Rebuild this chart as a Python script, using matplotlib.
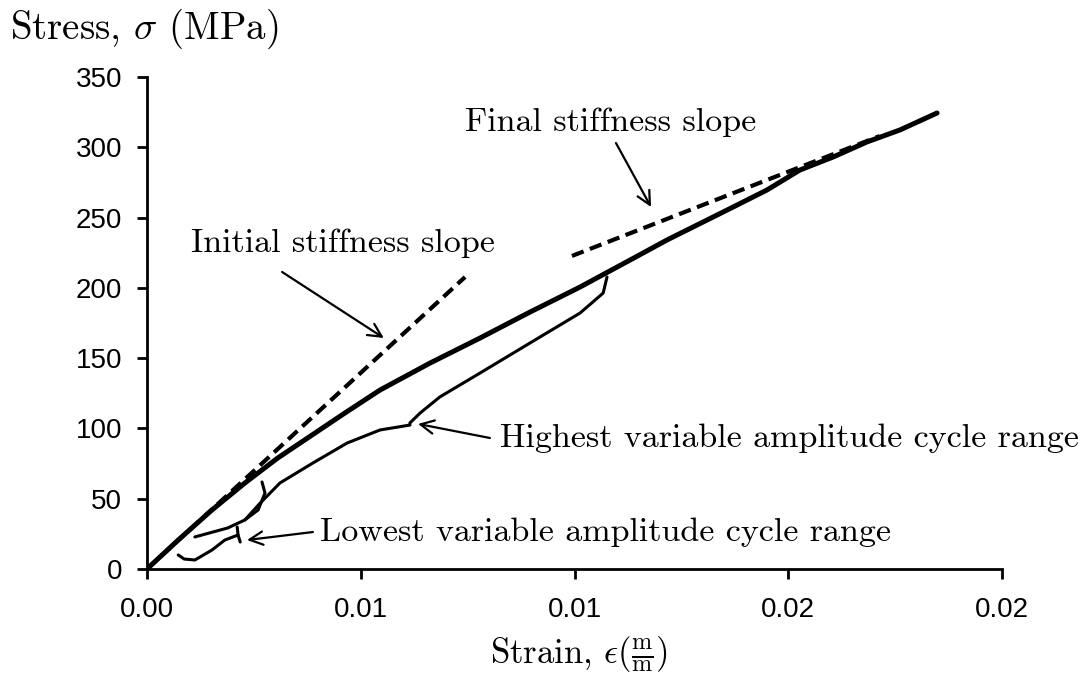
import numpy as np
import matplotlib
matplotlib.use("Agg")
import matplotlib.pyplot as plt

plt.rcParams['mathtext.fontset'] = 'cm'

# monotonic envelope (strain, stress MPa)
env_strain = [0, 0.00073, 0.00152, 0.00229, 0.00306, 0.00386, 0.00463, 0.00545, 0.00662,
              0.00779, 0.00896, 0.01013, 0.0113, 0.01216, 0.01371, 0.0145, 0.01527,
              0.01605, 0.01684, 0.01761, 0.01838, 0.01848]
env_stress = [0, 20.6, 42.0, 61.2, 79.0, 95.3, 111.0, 127.3, 146.5,
              164.3, 182.8, 200.6, 219.8, 234.0, 257.5, 269.6, 283.8,
              293.1, 303.8, 312.3, 323.0, 324.4]

# highest variable amplitude cycle: unloading from tip to cusp, then lower branch
hi_strain = [0.01076, 0.01067, 0.01013, 0.00896, 0.00779, 0.00685, 0.00639, 0.00615,
             0.00615, 0.00545, 0.00468, 0.00388, 0.00311, 0.00262, 0.00229]
hi_stress = [207.7, 196.3, 182.1, 160.8, 139.4, 122.4, 111.0, 103.9,
             102.4, 98.9, 89.6, 75.4, 61.2, 46.0, 34.9]

# small hook near the low cycle
hook_strain = [0.00269, 0.00276, 0.0026, 0.00229, 0.00189, 0.00112]
hook_stress = [61.9, 54.1, 42.0, 34.9, 29.2, 22.8]

# lowest variable amplitude cycle
lo_strain = [0.00073, 0.00087, 0.00112, 0.00152, 0.00182, 0.00213, 0.00218]
lo_stress = [10.0, 7.1, 6.4, 13.5, 20.6, 24.2, 19.2]
lo_link_strain = [0.00211, 0.00213]
lo_link_stress = [29.9, 24.2]

# stiffness slopes
init_strain = [0, 0.00744]
init_stress = [0, 207.7]
final_strain = [0.00994, 0.01714]
final_stress = [222.7, 308]

x_ticks = [0, 0.005, 0.01, 0.015, 0.02]
x_labels = ['0.00', '0.01', '0.01', '0.02', '0.02']
y_ticks = [0, 50, 100, 150, 200, 250, 300, 350]

fig = plt.figure(figsize=(10.84, 6.79), dpi=100)
ax = fig.add_axes([0.1356, 0.162, 0.7888, 0.7246])

ax.plot(init_strain, init_stress, color='black', lw=3, ls=(0, (3, 1.6)))
ax.plot(final_strain, final_stress, color='black', lw=3, ls=(0, (3, 1.6)))
ax.plot(env_strain, env_stress, color='black', lw=3.6, solid_capstyle='round', solid_joinstyle='round')
for xs, ys in [(hi_strain, hi_stress), (hook_strain, hook_stress),
               (lo_strain, lo_stress), (lo_link_strain, lo_link_stress)]:
    ax.plot(xs, ys, color='black', lw=2.2, solid_capstyle='round', solid_joinstyle='round')

ax.set_xlim(0, 0.02)
ax.set_ylim(0, 350)
ax.set_xticks(x_ticks)
ax.set_xticklabels(x_labels)
ax.set_yticks(y_ticks)
for s in ['top', 'right']:
    ax.spines[s].set_visible(False)
for s in ['left', 'bottom']:
    ax.spines[s].set_linewidth(2)
ax.tick_params(direction='out', length=7, width=2, labelsize=20)
ax.tick_params(axis='y', pad=11)
ax.tick_params(axis='x', pad=13)
for lab in ax.get_xticklabels() + ax.get_yticklabels():
    lab.set_fontfamily('Liberation Sans')

serif = dict(fontfamily='cmr10', fontsize=24.5)
arrow = dict(arrowstyle='->', color='black', lw=1.6, mutation_scale=24, shrinkA=0, shrinkB=0)

ax.text(0.00458, 231.9, 'Initial stiffness slope', ha='center', va='center', **serif)
ax.annotate('', xy=(0.00554, 164.3), xytext=(0.00316, 211.3), arrowprops=arrow)
ax.text(0.01085, 318, 'Final stiffness slope', ha='center', va='center', **serif)
ax.annotate('', xy=(0.01179, 257.5), xytext=(0.01097, 303), arrowprops=arrow)
ax.text(0.00826, 93.2, 'Highest variable amplitude cycle range', ha='left', va='center', **serif)
ax.annotate('', xy=(0.00634, 103.2), xytext=(0.00802, 93.2), arrowprops=arrow)
ax.text(0.00405, 26.3, 'Lowest variable amplitude cycle range', ha='left', va='center', **serif)
ax.annotate('', xy=(0.00234, 20.6), xytext=(0.00388, 26.3), arrowprops=arrow)

fig.text(0.0092, 0.958, r'Stress, $\sigma$ (MPa)', ha='left', va='center', fontfamily='cmr10', fontsize=28)
fig.text(0.534, 0.037, r'Strain, $\epsilon(\frac{\mathrm{m}}{\mathrm{m}})$', ha='center', va='center',
         fontfamily='cmr10', fontsize=25)

fig.savefig('out.png', dpi=100)
